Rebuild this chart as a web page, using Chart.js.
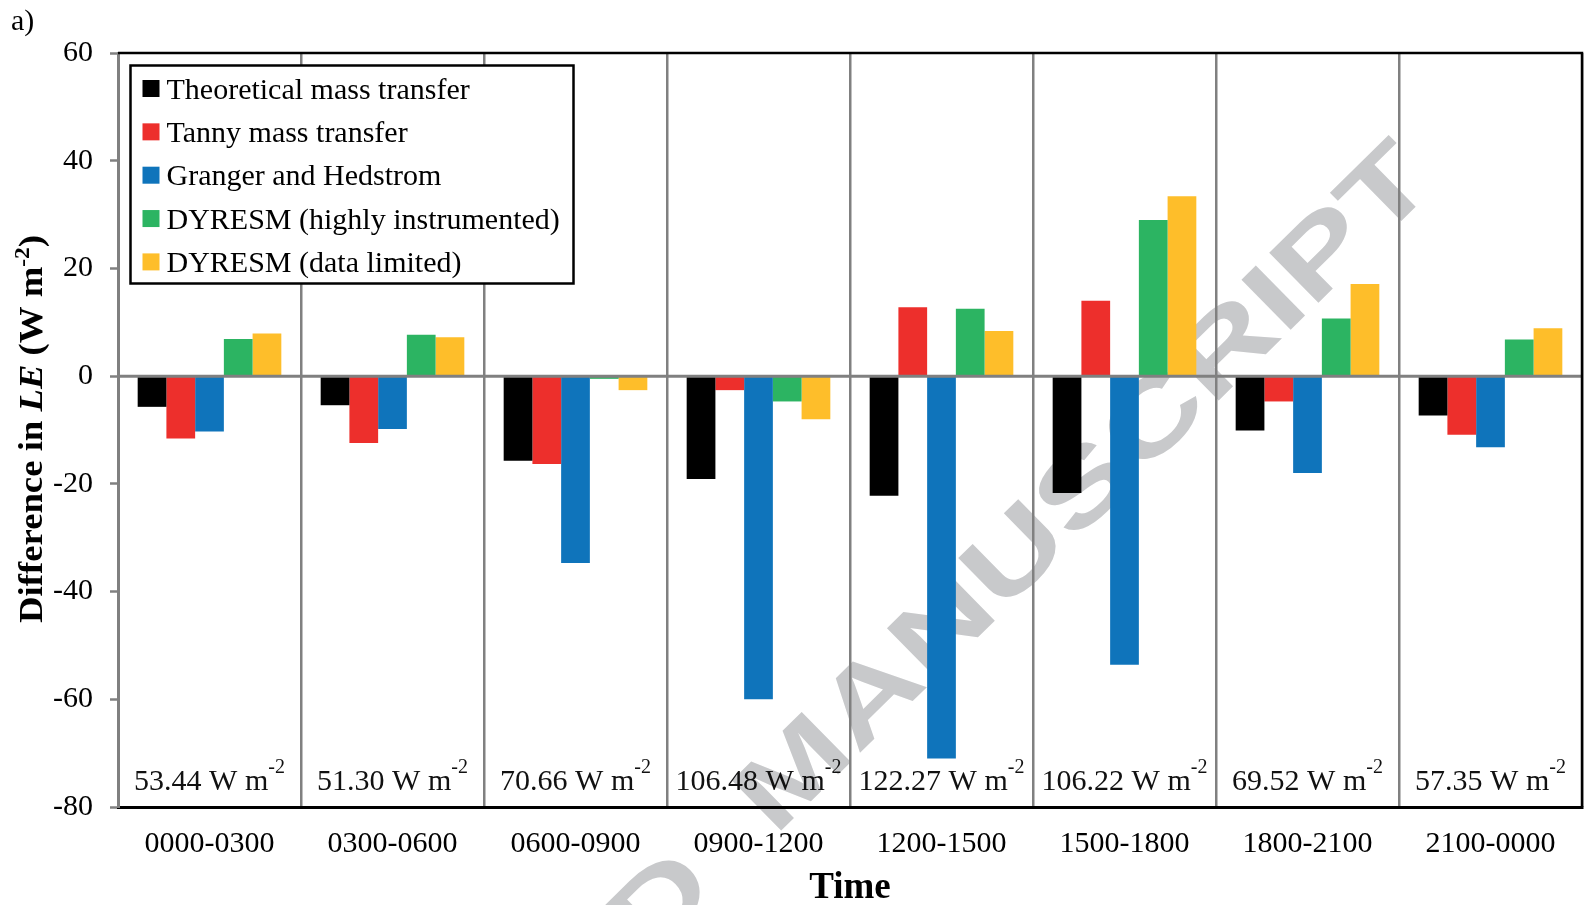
<!DOCTYPE html>
<html>
<head>
<meta charset="utf-8">
<script src="https://cdn.jsdelivr.net/npm/chart.js@4.4.1/dist/chart.umd.min.js"></script>
<style>
  html, body { margin: 0; padding: 0; background: #ffffff; }
  #wrap { width: 1584px; height: 905px; position: relative; }
</style>
</head>
<body>
<div id="wrap"><canvas id="chart" width="1584" height="905"></canvas></div>
<script>
// Three-hour periods of the day
const periods = ['0000-0300', '0300-0600', '0600-0900', '0900-1200',
                 '1200-1500', '1500-1800', '1800-2100', '2100-0000'];
// Mean measured latent heat flux for each period (W m-2)
const meanLE = ['53.44', '51.30', '70.66', '106.48', '122.27', '106.22', '69.52', '57.35'];

// Difference in LE for each method (W m-2)
const theoretical   = [-5.7, -5.4, -15.7, -19.1, -22.2, -21.7, -10.1, -7.3];
const tanny         = [-11.6, -12.4, -16.3, -2.6, 12.8, 14.0, -4.7, -10.9];
const granger       = [-10.3, -9.8, -34.7, -60.0, -71.0, -53.6, -18.0, -13.2];
const dyresmHigh    = [6.9, 7.7, -0.5, -4.7, 12.5, 29.0, 10.7, 6.8];
const dyresmLimited = [7.9, 7.2, -2.6, -8.0, 8.4, 33.4, 17.1, 8.9];

const seriesNames = ['Theoretical mass transfer', 'Tanny mass transfer', 'Granger and Hedstrom',
                     'DYRESM (highly instrumented)', 'DYRESM (data limited)'];
const seriesColors = ['#000000', '#ED2F2C', '#0F74BB', '#2CB462', '#FEBE2A'];

// Value axis range and spacing
const yMin = -80, yMax = 60, yStep = 20;

const SERIF = "'Liberation Serif', 'Times New Roman', serif";
const GRID_GREY = '#808080';

// Draws a run of text pieces (each with its own font and vertical shift)
function drawRich(ctx, parts, x, y, align) {
  let total = 0;
  parts.forEach(p => { ctx.font = p.font; p.w = ctx.measureText(p.t).width; total += p.w; });
  let cx = align === 'center' ? x - total / 2 : (align === 'right' ? x - total : x);
  ctx.textAlign = 'left';
  ctx.textBaseline = 'alphabetic';
  parts.forEach(p => {
    ctx.font = p.font;
    ctx.fillText(p.t, cx, y + (p.dy || 0));
    cx += p.w;
  });
  return total;
}

const decorations = {
  id: 'decorations',
  beforeDraw(chart) {
    const ctx = chart.ctx;
    ctx.save();
    ctx.fillStyle = '#ffffff';
    ctx.fillRect(0, 0, chart.width, chart.height);
    // diagonal watermark behind the plot
    ctx.translate(1439, 184);
    ctx.rotate(-44.5 * Math.PI / 180);
    ctx.scale(1.37, 1);
    ctx.font = "bold 102px 'Liberation Sans', Arial, sans-serif";
    ctx.fillStyle = '#c8c9cb';
    ctx.textAlign = 'right';
    ctx.textBaseline = 'alphabetic';
    ctx.fillText('ACCEPTED  MANUSCRIPT', 0, 0);
    ctx.restore();
  },
  afterDatasetsDraw(chart) {
    const ctx = chart.ctx;
    const area = chart.chartArea;
    const y0 = chart.scales.y.getPixelForValue(0);
    ctx.save();
    ctx.strokeStyle = GRID_GREY;
    ctx.lineWidth = 3;
    ctx.beginPath();
    ctx.moveTo(area.left, y0);
    ctx.lineTo(area.right, y0);
    ctx.stroke();
    ctx.restore();
  },
  afterDraw(chart) {
    const ctx = chart.ctx;
    const area = chart.chartArea;
    const xs = chart.scales.x;
    ctx.save();

    // top and right frame
    ctx.strokeStyle = '#000000';
    ctx.lineWidth = 2.5;
    ctx.beginPath();
    ctx.moveTo(area.left, area.top);
    ctx.lineTo(area.right, area.top);
    ctx.lineTo(area.right, area.bottom);
    ctx.stroke();

    // mean flux annotation in each period
    ctx.fillStyle = '#111111';
    meanLE.forEach((v, i) => {
      const cx = xs.getPixelForValue(i);
      drawRich(ctx, [
        { t: v + ' W m', font: '30px ' + SERIF },
        { t: '-2', font: '20px ' + SERIF, dy: -17 }
      ], cx, 790, 'center');
    });

    // legend box
    const lx = 130.5, ly = 65.5, lw = 443, lh = 218;
    ctx.fillStyle = '#ffffff';
    ctx.fillRect(lx, ly, lw, lh);
    ctx.strokeStyle = '#000000';
    ctx.lineWidth = 2.5;
    ctx.strokeRect(lx, ly, lw, lh);
    chart.data.datasets.forEach((ds, i) => {
      const cy = 88.5 + i * 43.35;
      ctx.fillStyle = ds.backgroundColor;
      ctx.fillRect(142.5, cy - 8.5, 17, 17);
      ctx.fillStyle = '#000000';
      ctx.font = '30px ' + SERIF;
      ctx.textAlign = 'left';
      ctx.textBaseline = 'alphabetic';
      ctx.fillText(ds.label, 166.5, cy + 10);
    });

    // panel letter
    ctx.fillStyle = '#000000';
    ctx.font = '30px ' + SERIF;
    ctx.textAlign = 'left';
    ctx.textBaseline = 'alphabetic';
    ctx.fillText('a)', 11, 30);

    // x axis title
    ctx.font = 'bold 37px ' + SERIF;
    ctx.textAlign = 'center';
    ctx.fillText('Time', (area.left + area.right) / 2, 898);

    // y axis title
    ctx.save();
    ctx.translate(42, 429);
    ctx.rotate(-Math.PI / 2);
    const parts = [
      { t: 'Difference in ', font: 'bold 33px ' + SERIF },
      { t: 'LE', font: 'italic bold 33px ' + SERIF },
      { t: ' (W m', font: 'bold 33px ' + SERIF },
      { t: '-2', font: 'bold 21px ' + SERIF, dy: -13 },
      { t: ')', font: 'bold 33px ' + SERIF }
    ];
    let total = 0;
    parts.forEach(p => { ctx.font = p.font; total += ctx.measureText(p.t).width; });
    ctx.scale(388 / total, 1);
    ctx.fillStyle = '#000000';
    drawRich(ctx, parts, 0, 0, 'center');
    ctx.restore();

    ctx.restore();
  }
};

const series = [theoretical, tanny, granger, dyresmHigh, dyresmLimited];

new Chart(document.getElementById('chart'), {
  type: 'bar',
  data: {
    labels: periods,
    datasets: series.map((vals, i) => ({
      label: seriesNames[i],
      data: vals,
      backgroundColor: seriesColors[i],
      borderWidth: 0,
      categoryPercentage: 0.785,
      barPercentage: 1.0
    }))
  },
  options: {
    responsive: false,
    animation: false,
    devicePixelRatio: 1,
    layout: { padding: { top: 53, right: 2, left: 0, bottom: 0 } },
    plugins: {
      legend: { display: false },
      tooltip: { enabled: false },
      title: { display: false }
    },
    scales: {
      x: {
        offset: true,
        grid: {
          offset: true,
          color: GRID_GREY,
          lineWidth: 2.5,
          drawTicks: false
        },
        border: { color: '#000000', width: 3 },
        ticks: {
          color: '#000000',
          font: { family: SERIF, size: 30 },
          padding: 19,
          maxRotation: 0,
          autoSkip: false
        },
        afterFit(scale) { scale.height = 98; }
      },
      y: {
        min: yMin,
        max: yMax,
        grid: {
          drawOnChartArea: false,
          drawTicks: true,
          tickLength: 8,
          tickColor: GRID_GREY,
          tickWidth: 2.5
        },
        border: { color: GRID_GREY, width: 3 },
        ticks: {
          stepSize: yStep,
          color: '#000000',
          font: { family: SERIF, size: 30 },
          padding: 17
        },
        afterFit(scale) { scale.width = 118; }
      }
    }
  },
  plugins: [decorations]
});
</script>
</body>
</html>
